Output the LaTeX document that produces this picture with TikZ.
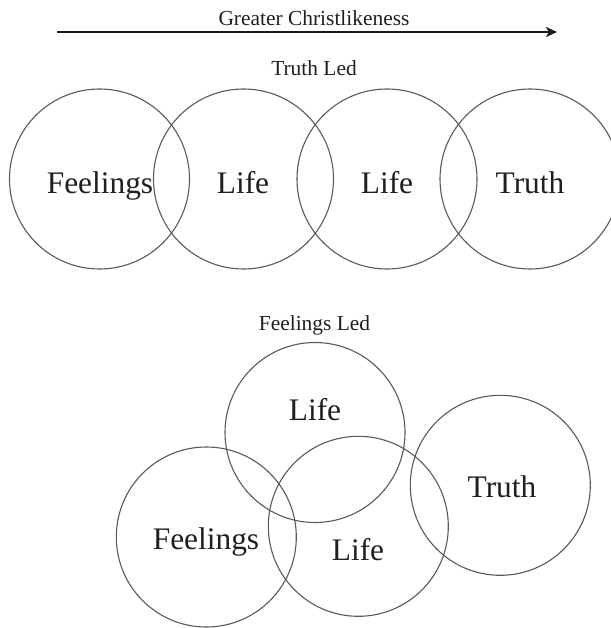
\documentclass[tikz,border=0pt]{standalone}
\usepackage{fontspec}
\setmainfont{Liberation Serif}
\usetikzlibrary{arrows.meta}
\tikzset{
  ring/.style={draw=black!65, line width=1.1bp, circle, minimum size=180bp, inner sep=0pt},
  big/.style={anchor=base, text=black!88, font=\fontsize{31.5}{32}\selectfont, inner sep=0pt},
  small/.style={anchor=base, text=black!88, font=\fontsize{21.5}{22}\selectfont, inner sep=0pt}
}
\begin{document}
\begin{tikzpicture}[x=1bp,y=-1bp]
\useasboundingbox (0,0) rectangle (611,628);
% arrow
\coordinate (a0) at (57,32);
\coordinate (a1) at (557,32);
\draw[line width=2bp, black!90, -{Stealth[length=11bp,width=10bp,inset=3bp]}] (a0) -- (a1);
\node[small] (title) at (314,26) {Greater Christlikeness};
\node[small] (tled) at (314,76) {Truth Led};
% top row
\node[ring] (c1) at (99.5,179) {};
\node[ring] (c2) at (243.5,179) {};
\node[ring] (c3) at (387,179) {};
\node[ring] (c4) at (530,179) {};
\node[big] (l1) at (100,193) {Feelings};
\node[big] (l2) at (243,193) {Life};
\node[big] (l3) at (387,193) {Life};
\node[big] (l4) at (530,193) {Truth};
% bottom
\node[small] (fled) at (314.5,330) {Feelings Led};
\node[ring] (b1) at (315,432.5) {};
\node[ring] (b2) at (206.3,537) {};
\node[ring] (b3) at (358.3,526.3) {};
\node[ring] (b4) at (500.3,485.3) {};
\node[big] (m1) at (315,420) {Life};
\node[big] (m2) at (206,549) {Feelings};
\node[big] (m3) at (358,560) {Life};
\node[big] (m4) at (502,497) {Truth};
\end{tikzpicture}
\end{document}
